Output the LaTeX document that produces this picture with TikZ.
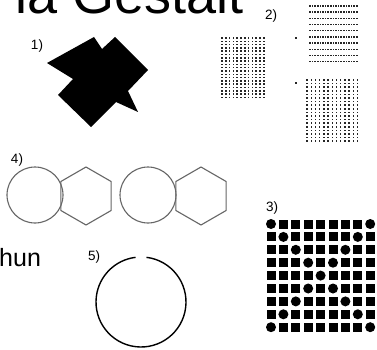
\documentclass[tikz,border=0pt]{standalone}
\usepackage{fontspec}
\setmainfont{Liberation Sans}
\begin{document}
\begin{tikzpicture}[x=1pt,y=-1pt,
  lbl/.style={inner sep=0pt, font=\fontsize{13.5}{14}\selectfont},
  dotc/.style={fill=black!85},
  gline/.style={draw=black!60, line width=1.1pt},
  sq/.style={fill=black}]
\useasboundingbox (0,0) rectangle (377,350);
\clip (0,0) rectangle (377,350);
\fill[white] (0,0) rectangle (377,350);
% title fragment
\node[anchor=base west, inner sep=0pt, font=\fontsize{54}{56}\selectfont] (title) at (15,14) {ia Gestalt};
\node[anchor=base west, inner sep=0pt, font=\fontsize{25}{27}\selectfont] (hun) at (-1,266) {hun};
% labels
\node[lbl] (l1) at (37,46) {1)};
\node[lbl] (l2) at (271,16) {2)};
\node[lbl] (l3) at (272,208) {3)};
\node[lbl] (l4) at (17,160) {4)};
\node[lbl] (l5) at (94,257) {5)};
% 1) black shape
\fill (47,63) -- (94,37) -- (102,49) -- (115,37) -- (148,70) -- (128,91) -- (138,112) -- (116,102) -- (91,127) -- (58,95) -- (73,79) -- cycle;
% 2) dot grids
\foreach \i in {0,...,11}{\foreach \j in {0,...,18}{
  \fill[dotc] ({222+3.8*\i-0.75},{38+3.3*\j-0.75}) rectangle +(1.5,1.5);}}
\foreach \i in {0,...,18}{\foreach \j in {0,...,9}{
  \fill[dotc] ({310+2.6*\i-0.75},{6+6.2*\j-0.7}) rectangle +(1.5,1.4);}}
\foreach \i in {0,...,12}{\foreach \j in {0,...,17}{
  \fill[dotc] ({307+4.2*\i-0.7},{80+3.6*\j-0.75}) rectangle +(1.4,1.5);}}
\fill[dotc] (295.4,37.4) rectangle +(1.2,1.2);
\fill[dotc] (295.4,82.4) rectangle +(1.2,1.2);
% 4) circles and hexagons
\draw[gline] (35,195) circle[radius=28pt];
\draw[gline, shift={(86,196)}] (90:29) -- (30:29) -- (-30:29) -- (-90:29) -- (-150:29) -- (150:29) -- cycle;
\draw[gline] (148,195) circle[radius=28pt];
\draw[gline, shift={(201,196)}] (90:29) -- (30:29) -- (-30:29) -- (-90:29) -- (-150:29) -- (150:29) -- cycle;
% 3) square/circle grid
\foreach \i in {0,...,8}{\foreach \j in {0,...,8}{
  \pgfmathtruncatemacro{\dg}{(\i==\j)||(\i+\j==8)}
  \ifnum\dg=1
    \fill ({271+12.4*\i},{224+12.9*\j}) circle[radius=5pt];
  \else
    \fill[sq] ({271+12.4*\i-4.5},{224+12.9*\j-4.5}) rectangle +(9,9);
  \fi}}
% 5) open circle
\draw[line width=1.4pt] (141,302) ++(-83:45) arc[start angle=-83, end angle=263, radius=45];
\end{tikzpicture}
\end{document}
